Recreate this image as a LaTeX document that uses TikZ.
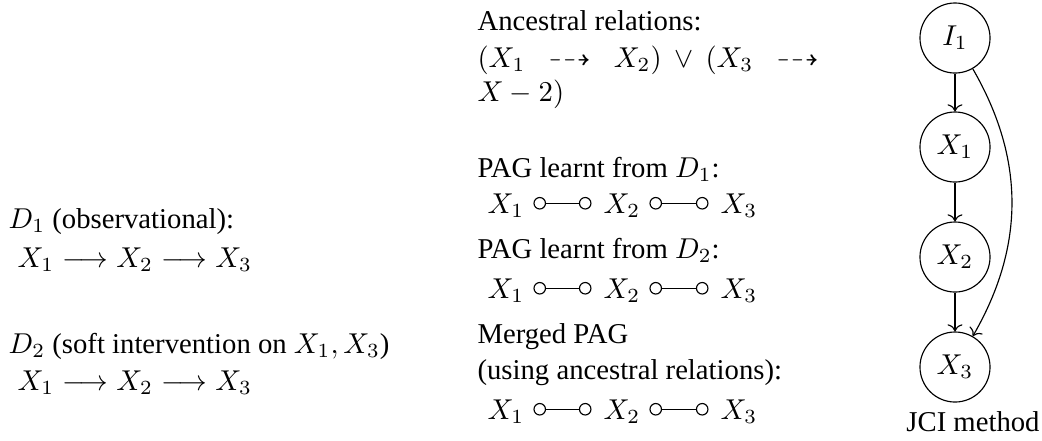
\documentclass[tikz,border=0pt]{standalone}
\usepackage{amssymb}
\usepackage[no-math]{fontspec}
\setmainfont{Liberation Serif}
\usetikzlibrary{arrows.meta}

\begin{document}
\begin{tikzpicture}[x=0.3484pt,y=-0.3484pt,
  txt/.style={inner sep=0pt, anchor=base west},
  var/.style={circle, draw, minimum size=24.4pt, inner sep=0pt},
  pagedge/.style={{Circle[open,length=4.4pt,width=4.4pt]}-{Circle[open,length=4.4pt,width=4.4pt]}},
  jciedge/.style={->}]
\useasboundingbox (0,0) rectangle (1042,440);

% left column
\node[txt] (d1)  at (8,228)  {$D_1$ (observational):};
\node[txt] (d1g) at (17,267) {$X_1 \longrightarrow X_2 \longrightarrow X_3$};
\node[txt] (d2)  at (8,353)  {$D_2$ (soft intervention on $X_1, X_3$)};
\node[txt] (d2g) at (17,390) {$X_1 \longrightarrow X_2 \longrightarrow X_3$};

% middle column
\node[txt] (anc1) at (477,30)  {Ancestral relations:};
\node[txt] (anc2) at (477,67)  {\hbox to 119pt{$(X_1 \dashrightarrow X_2) \vee (X_3 \dashrightarrow$}};
\node[txt] (anc3) at (477,101) {$X - 2)$};

\node[txt] (pag1) at (477,177) {PAG learnt from $D_1$:};
\node[txt] (pa1) at (487,213) {$X_1$};
\node[txt] (pa2) at (603,213) {$X_2$};
\node[txt] (pa3) at (720,213) {$X_3$};

\node[txt] (pag2) at (477,258) {PAG learnt from $D_2$:};
\node[txt] (pb1) at (487,298) {$X_1$};
\node[txt] (pb2) at (603,298) {$X_2$};
\node[txt] (pb3) at (720,298) {$X_3$};

\node[txt] (mrg1) at (477,343) {Merged PAG};
\node[txt] (mrg2) at (477,379) {(using ancestral relations):};
\node[txt] (pc1) at (487,419) {$X_1$};
\node[txt] (pc2) at (603,419) {$X_2$};
\node[txt] (pc3) at (720,419) {$X_3$};

\foreach \r in {a,b,c}{
  \draw[pagedge] ([xshift=3pt,yshift=3.4pt]p\r1.base east) -- ([xshift=-4pt,yshift=3.4pt]p\r2.base west);
  \draw[pagedge] ([xshift=3pt,yshift=3.4pt]p\r2.base east) -- ([xshift=-4pt,yshift=3.4pt]p\r3.base west);
}

% JCI graph
\node[var] (i1) at (955,38)  {$I_1$};
\node[var] (x1) at (955,147) {$X_1$};
\node[var] (x2) at (955,257) {$X_2$};
\node[var] (x3) at (955,367) {$X_3$};
\node[inner sep=0pt, anchor=base] (jci) at (973,431) {JCI method};
\draw[jciedge] (i1) -- (x1);
\draw[jciedge] (x1) -- (x2);
\draw[jciedge] (x2) -- (x3);
\draw[jciedge] (i1) to[out=-60,in=60] (x3);
\end{tikzpicture}
\end{document}
